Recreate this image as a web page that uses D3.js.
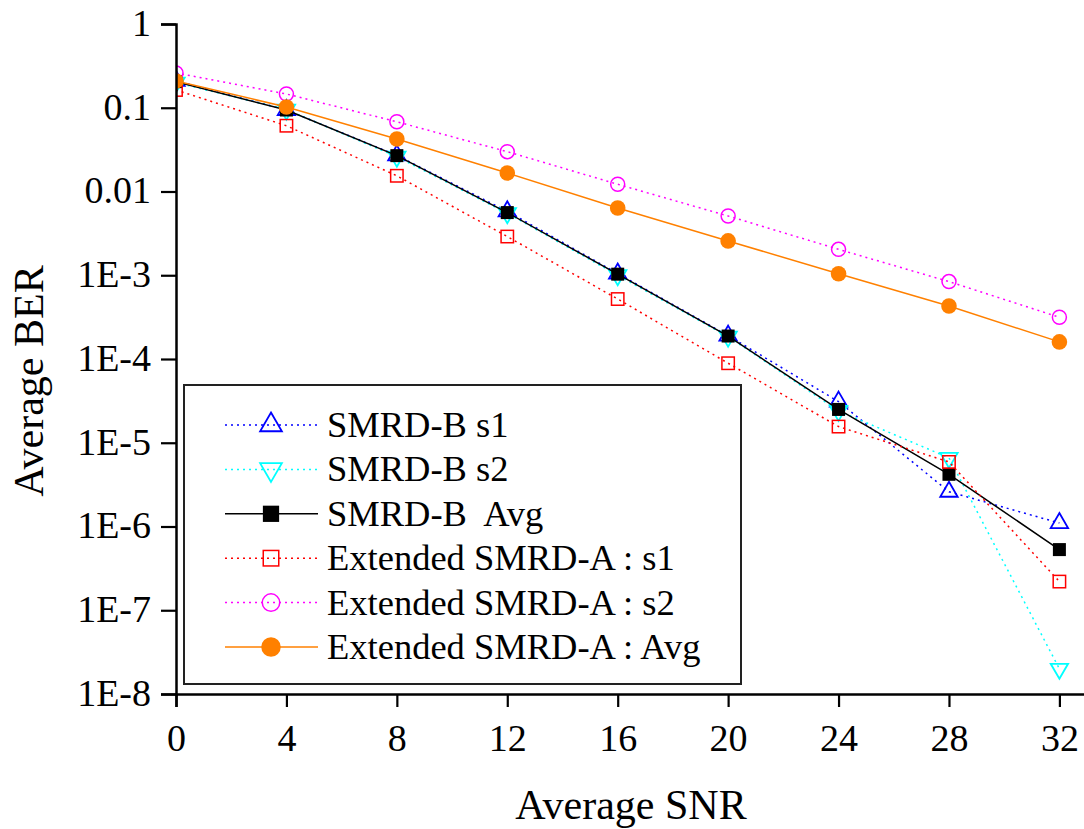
<!DOCTYPE html>
<html>
<head>
<meta charset="utf-8">
<script src="https://cdn.jsdelivr.net/npm/d3@7"></script>
<style>
  body { margin: 0; background: #fff; }
</style>
</head>
<body>
<div id="viz"></div>
<script>
const width = 1084;
const height = 829;
const serif = '"Liberation Serif", "DejaVu Serif", serif';

// data
const snr = [0, 4, 8, 12, 16, 20, 24, 28, 32];
const smrdB_s1 = [0.21, 0.094, 0.027, 0.0058, 0.00105, 1.9e-4, 3.1e-5, 2.6e-6, 1.1e-6];
const smrdB_s2 = [0.2, 0.095, 0.026, 0.0055, 0.001, 1.85e-4, 2.4e-5, 6.6e-6, 2.0e-8];
const smrdB_avg = [0.205, 0.094, 0.0268, 0.0056, 0.00103, 1.88e-4, 2.5e-5, 4.2e-6, 5.3e-7];
const extA_s1 = [0.163, 0.061, 0.0154, 0.0029, 5.2e-4, 8.9e-5, 1.56e-5, 5.9e-6, 2.2e-7];
const extA_s2 = [0.26, 0.146, 0.068, 0.0299, 0.0122, 0.0051, 0.00204, 8.4e-4, 3.15e-4];
const extA_avg = [0.209, 0.102, 0.0424, 0.0166, 0.00635, 0.00257, 0.00104, 4.3e-4, 1.6e-4];

const xMajor = [0, 4, 8, 12, 16, 20, 24, 28, 32];
const xMinor = [2, 6, 10, 14, 18, 22, 26, 30];
const yMajor = [1, 0.1, 0.01, 1e-3, 1e-4, 1e-5, 1e-6, 1e-7, 1e-8];
const yLabels = ['1', '0.1', '0.01', '1E-3', '1E-4', '1E-5', '1E-6', '1E-7', '1E-8'];

const series = [
  {name: 'SMRD-B s1', values: smrdB_s1, color: '#0000ff', dash: '2,4', marker: 'triUp'},
  {name: 'SMRD-B s2', values: smrdB_s2, color: '#00ffff', dash: '2,4', marker: 'triDown'},
  {name: 'SMRD-B  Avg', values: smrdB_avg, color: '#000000', dash: null, marker: 'squareFill'},
  {name: 'Extended SMRD-A : s1', values: extA_s1, color: '#ff0000', dash: '2,4', marker: 'square'},
  {name: 'Extended SMRD-A : s2', values: extA_s2, color: '#ff00ff', dash: '2,4', marker: 'circle'},
  {name: 'Extended SMRD-A : Avg', values: extA_avg, color: '#ff8000', dash: null, marker: 'circleFill'}
];

const svg = d3.select('#viz').append('svg')
  .attr('width', width)
  .attr('height', height)
  .style('font-family', serif);

const x = d3.scaleLinear().domain([0, 33]).range([176, 1087]);
const y = d3.scaleLog().domain([1e-8, 1]).range([694, 24]);

svg.append('clipPath').attr('id', 'plotClip')
  .append('rect')
  .attr('x', x(0)).attr('y', 0)
  .attr('width', width - x(0)).attr('height', y(1e-8));

// markers, k = size factor
const drawMarker = (g, type, color, k = 1) => {
  if (type === 'triUp') {
    g.append('path').attr('d', `M0,${-10 * k}L${8.7 * k},${5 * k}L${-8.7 * k},${5 * k}Z`)
      .attr('fill', 'none').attr('stroke', color).attr('stroke-width', 1.8);
  } else if (type === 'triDown') {
    g.append('path').attr('d', `M0,${10 * k}L${8.7 * k},${-5 * k}L${-8.7 * k},${-5 * k}Z`)
      .attr('fill', 'none').attr('stroke', color).attr('stroke-width', 1.8);
  } else if (type === 'squareFill') {
    g.append('rect').attr('x', -6.5 * k).attr('y', -6.5 * k)
      .attr('width', 13 * k).attr('height', 13 * k)
      .attr('fill', color);
  } else if (type === 'square') {
    g.append('rect').attr('x', -6.2 * k).attr('y', -6.2 * k)
      .attr('width', 12.4 * k).attr('height', 12.4 * k)
      .attr('fill', 'none').attr('stroke', color).attr('stroke-width', 1.5);
  } else if (type === 'circle') {
    g.append('circle').attr('r', 7 * k).attr('fill', 'none')
      .attr('stroke', color).attr('stroke-width', 1.5);
  } else if (type === 'circleFill') {
    g.append('circle').attr('r', 7.8 * k).attr('fill', color);
  }
};

const line = d3.line().x((d, i) => x(snr[i])).y(d => y(d));

const plot = svg.append('g').attr('clip-path', 'url(#plotClip)');
series.forEach(s => {
  plot.append('path')
    .datum(s.values)
    .attr('d', line)
    .attr('fill', 'none')
    .attr('stroke', s.color)
    .attr('stroke-width', 1.5)
    .attr('stroke-dasharray', s.dash);
  s.values.forEach((v, i) => {
    const g = plot.append('g').attr('transform', `translate(${x(snr[i])},${y(v)})`);
    drawMarker(g, s.marker, s.color);
  });
});

// x axis
const xAxisG = svg.append('g').attr('transform', `translate(0,${y(1e-8)})`);
xAxisG.call(d3.axisBottom(x).tickValues(xMinor).tickSize(7).tickFormat(''));
xAxisG.call(d3.axisBottom(x).tickValues(xMajor).tickSize(13).tickPadding(17)
  .tickFormat(d3.format('d')));
xAxisG.attr('font-family', null);
xAxisG.selectAll('path.domain').attr('stroke-width', 2.5);
xAxisG.selectAll('line').attr('stroke-width', 2.2);
xAxisG.selectAll('text').attr('font-size', 38).style('font-family', serif);

// y axis
const yMinor = [];
for (let e = -8; e < 0; e++) {
  for (let m = 2; m <= 9; m++) yMinor.push(m * Math.pow(10, e));
}
const yAxisG = svg.append('g').attr('transform', `translate(${x(0)},0)`);
yAxisG.call(d3.axisLeft(y).tickValues(yMinor).tickSize(9).tickFormat(''));
yAxisG.call(d3.axisLeft(y).tickValues(yMajor).tickSize(15).tickPadding(10)
  .tickFormat(d => yLabels[yMajor.indexOf(d)]));
yAxisG.attr('font-family', null);
yAxisG.selectAll('path.domain').attr('stroke-width', 2.5);
yAxisG.selectAll('line').attr('stroke-width', 2.2);
yAxisG.selectAll('text').attr('font-size', 38).attr('dy', '0.3em').style('font-family', serif);

// axis titles
svg.append('text')
  .attr('x', 631).attr('y', 819)
  .attr('text-anchor', 'middle')
  .attr('font-size', 42)
  .style('font-family', serif)
  .text('Average SNR');

svg.append('text')
  .attr('transform', 'translate(43,381) rotate(-90)')
  .attr('text-anchor', 'middle')
  .attr('font-size', 42)
  .style('font-family', serif)
  .text('Average BER');

// legend
const legend = svg.append('g');
legend.append('rect')
  .attr('x', 184).attr('y', 385).attr('width', 557).attr('height', 299)
  .attr('fill', '#fff').attr('stroke', '#222').attr('stroke-width', 2);

series.forEach((s, i) => {
  const cy = 425 + i * 44.4;
  legend.append('line')
    .attr('x1', 225).attr('x2', 318).attr('y1', cy).attr('y2', cy)
    .attr('stroke', s.color).attr('stroke-width', 1.5)
    .attr('stroke-dasharray', s.dash);
  const g = legend.append('g').attr('transform', `translate(271,${cy})`);
  drawMarker(g, s.marker, s.color, 1.25);
  legend.append('text')
    .attr('x', 327).attr('y', cy + 12)
    .attr('font-size', 36.5)
    .style('font-family', serif)
    .style('white-space', 'pre')
    .text(s.name);
});
</script>
</body>
</html>
